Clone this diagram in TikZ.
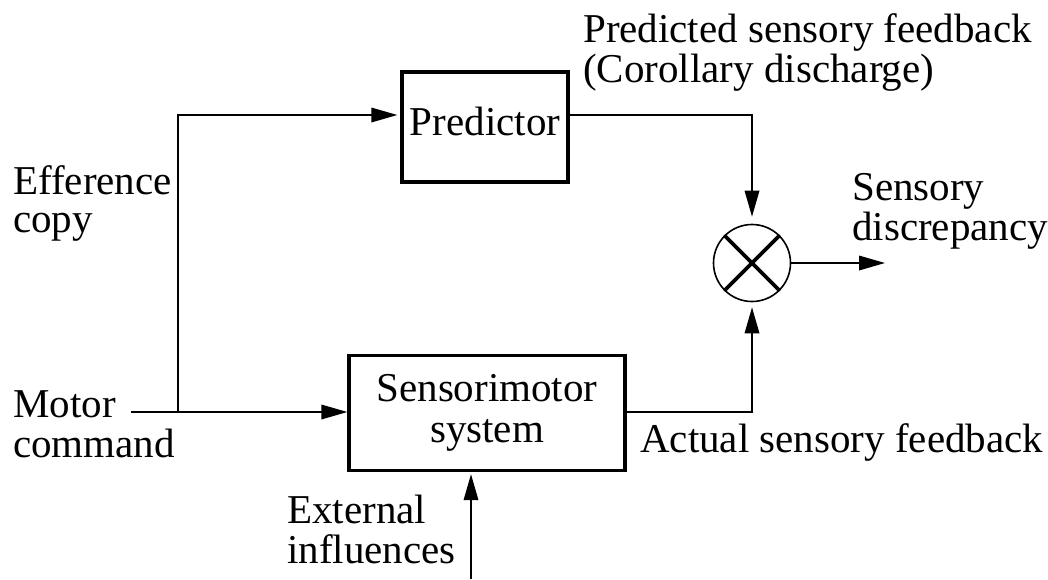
\documentclass[tikz,border=0pt]{standalone}
\usepackage{fontspec}
\setmainfont{Liberation Serif}
\usetikzlibrary{arrows.meta}
\begin{document}
\begin{tikzpicture}[x=1pt,y=-1pt,
  font=\fontsize{41}{41}\selectfont,
  blockbox/.style={draw,line width=3.3pt,inner sep=0pt},
  conn/.style={line width=1.8pt},
  arr/.style={conn,-{Triangle[length=26pt,width=14.5pt]}},
  lbl/.style={anchor=base west,inner sep=0pt}]
\useasboundingbox (0,0) rectangle (1048,579);
% blocks
\node[blockbox,minimum width=166pt,minimum height=110pt,text depth=12pt] (pred) at (485,127) {Predictor};
\node[blockbox,minimum width=276pt,minimum height=115pt,align=center] (sm) at (487,413) {Sensorimotor\\system};
\node[draw,circle,line width=1.6pt,minimum size=77pt,inner sep=0pt] (cmp) at (752,263) {};
\draw[line width=3.6pt] (cmp.45) -- (cmp.225) (cmp.135) -- (cmp.315);
% coordinates
\coordinate (mstart) at (131,412);
\coordinate (junc) at (178,412);
\coordinate (outend) at (885,263);
\coordinate (extstart) at (471,579);
% connectors
\draw[arr] (mstart) -- (sm.west |- mstart);
\draw[arr,shorten >=3pt] (junc) |- ([yshift=12pt]pred.west);
\draw[arr,shorten >=7pt] ([yshift=12pt]pred.east) -| (cmp.north);
\draw[arr,shorten >=5pt] (sm.east |- mstart) -| (cmp.south);
\draw[arr] (cmp.east) -- (outend);
\draw[arr,shorten >=2pt] (extstart) -- (extstart |- sm.south);
% labels
\node[lbl] (t1) at (583,42) {Predicted sensory feedback};
\node[lbl] (t2) at (583,82) {(Corollary discharge)};
\node[lbl] (t3) at (13,194) {Efference};
\node[lbl] (t4) at (13,232) {copy};
\node[lbl] (t5) at (852,200) {Sensory};
\node[lbl] (t6) at (852,240) {discrepancy};
\node[lbl] (t7) at (13,417) {Motor};
\node[lbl] (t8) at (13,457) {command};
\node[lbl] (t9) at (640,452) {Actual sensory feedback};
\node[lbl] (t10) at (287,523) {External};
\node[lbl] (t11) at (287,563) {influences};
\end{tikzpicture}
\end{document}
